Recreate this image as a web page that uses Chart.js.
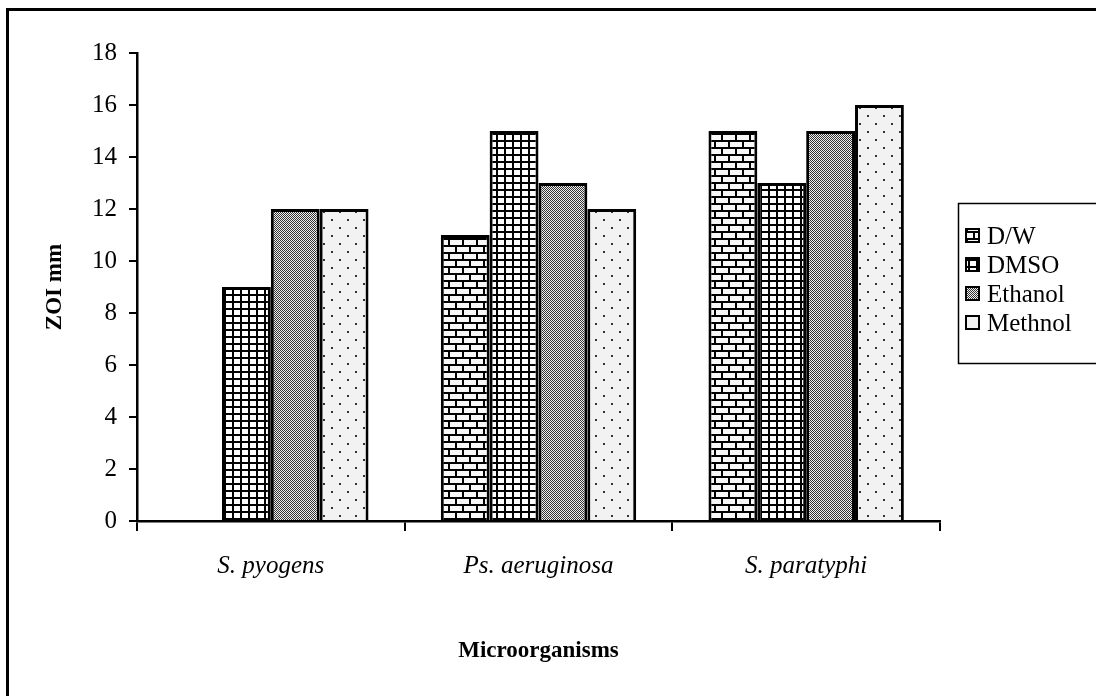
<!DOCTYPE html>
<html>
<head>
<meta charset="utf-8">
<script src="https://cdn.jsdelivr.net/npm/chart.js@4/dist/chart.umd.min.js"></script>
<style>
  html, body { margin: 0; padding: 0; background: #fff; }
  #wrap { width: 1096px; height: 696px; }
</style>
</head>
<body>
<div id="wrap"><canvas id="zoiChart" width="1096" height="696"></canvas></div>
<script>
// Zone of inhibition (mm) per solvent extract
const organisms = ['S. pyogens', 'Ps. aeruginosa', 'S. paratyphi'];
const solvents = ['D/W', 'DMSO', 'Ethanol', 'Methnol'];
const dwValues = [null, 11, 15];
const dmsoValues = [9, 15, 13];
const ethanolValues = [12, 13, 15];
const methnolValues = [12, 12, 16];
const yMin = 0, yMax = 18, yStep = 2;

const serif = '"Liberation Serif", "Times New Roman", serif';

// ---- fill patterns ----
function makePattern(w, h, draw) {
  const tile = document.createElement('canvas');
  tile.width = w; tile.height = h;
  const g = tile.getContext('2d');
  draw(g);
  return document.createElement('canvas').getContext('2d').createPattern(tile, 'repeat');
}

// brick wall
const brickFill = makePattern(14, 14, g => {
  g.fillStyle = '#000'; g.fillRect(0, 0, 14, 14);
  g.fillStyle = '#f8f8f8';
  g.fillRect(2, 2, 12, 5);
  g.fillRect(0, 9, 7, 5);
  g.fillRect(9, 9, 5, 5);
});

// square grid
const gridFill = makePattern(8, 7, g => {
  g.fillStyle = '#fff'; g.fillRect(0, 0, 8, 7);
  g.fillStyle = '#000';
  g.fillRect(0, 0, 2, 7);
  g.fillRect(0, 0, 8, 2);
});

// fine checker
const checkFill = makePattern(2, 2, g => {
  g.fillStyle = '#f0f0f0'; g.fillRect(0, 0, 2, 2);
  g.fillStyle = '#333';
  g.fillRect(0, 0, 1, 1);
  g.fillRect(1, 1, 1, 1);
});

// sparse dots on light grey
const dotFill = makePattern(16, 16, g => {
  g.fillStyle = '#f2f2f2'; g.fillRect(0, 0, 16, 16);
  g.fillStyle = '#333';
  g.fillRect(3, 3, 2, 2);
  g.fillRect(11, 11, 2, 2);
});

const fills = [brickFill, gridFill, checkFill, dotFill];
const seriesValues = [dwValues, dmsoValues, ethanolValues, methnolValues];

// ---- plugins ----
const framePlugin = {
  id: 'frame',
  beforeDraw(chart) {
    const ctx = chart.ctx;
    ctx.save();
    ctx.fillStyle = '#fff';
    ctx.fillRect(0, 0, chart.width, chart.height);
    ctx.fillStyle = '#000';
    ctx.fillRect(6, 8, 3, chart.height - 8);
    ctx.fillRect(6, 8, chart.width - 6, 3);
    ctx.restore();
  }
};

const legendBoxPlugin = {
  id: 'legendBox',
  afterDraw(chart) {
    const ctx = chart.ctx;
    const x = 958, y = 203, w = 150, h = 160;
    ctx.save();
    ctx.strokeStyle = '#000';
    ctx.lineWidth = 1.5;
    ctx.strokeRect(x + 0.5, y + 0.5, w, h);
    ctx.font = '25px ' + serif;
    ctx.textBaseline = 'middle';
    solvents.forEach((name, i) => {
      const cy = y + 33 + i * 29;
      ctx.fillStyle = fills[i];
      ctx.fillRect(966, cy - 7, 13, 13);
      ctx.lineWidth = 2;
      ctx.strokeRect(966, cy - 7, 13, 13);
      ctx.fillStyle = '#000';
      ctx.fillText(name, 987, cy + 1);
    });
    ctx.restore();
  }
};

new Chart(document.getElementById('zoiChart'), {
  type: 'bar',
  data: {
    labels: organisms,
    datasets: solvents.map((name, i) => ({
      label: name,
      data: seriesValues[i],
      backgroundColor: fills[i],
      borderColor: '#000',
      borderWidth: 3,
      borderSkipped: 'bottom',
      categoryPercentage: 0.73,
      barPercentage: 1
    }))
  },
  options: {
    responsive: false,
    animation: false,
    layout: { padding: { left: 0, top: 53, right: 156, bottom: 0 } },
    plugins: {
      legend: { display: false },
      tooltip: { enabled: false }
    },
    scales: {
      x: {
        afterFit(scale) { scale.height = 175; },
        grid: {
          drawOnChartArea: false,
          offset: true,
          color: '#000',
          lineWidth: 2,
          tickLength: 10
        },
        border: { color: '#000', width: 2.5 },
        ticks: {
          color: '#000',
          padding: 20,
          font: { family: serif, size: 25, style: 'italic' }
        },
        title: {
          display: true,
          text: 'Microorganisms',
          color: '#000',
          font: { family: serif, size: 23, weight: 'bold' },
          padding: { bottom: 31 }
        }
      },
      y: {
        min: yMin,
        max: yMax,
        afterFit(scale) { scale.width = 137; },
        grid: {
          drawOnChartArea: false,
          color: '#000',
          lineWidth: 2,
          tickLength: 8
        },
        border: { color: '#000', width: 2.5 },
        ticks: {
          stepSize: yStep,
          color: '#000',
          padding: 12,
          font: { family: serif, size: 25 }
        },
        title: {
          display: true,
          text: 'ZOI mm',
          color: '#000',
          font: { family: serif, size: 23, weight: 'bold' },
          padding: { top: 41 }
        }
      }
    }
  },
  plugins: [framePlugin, legendBoxPlugin]
});
</script>
</body>
</html>
